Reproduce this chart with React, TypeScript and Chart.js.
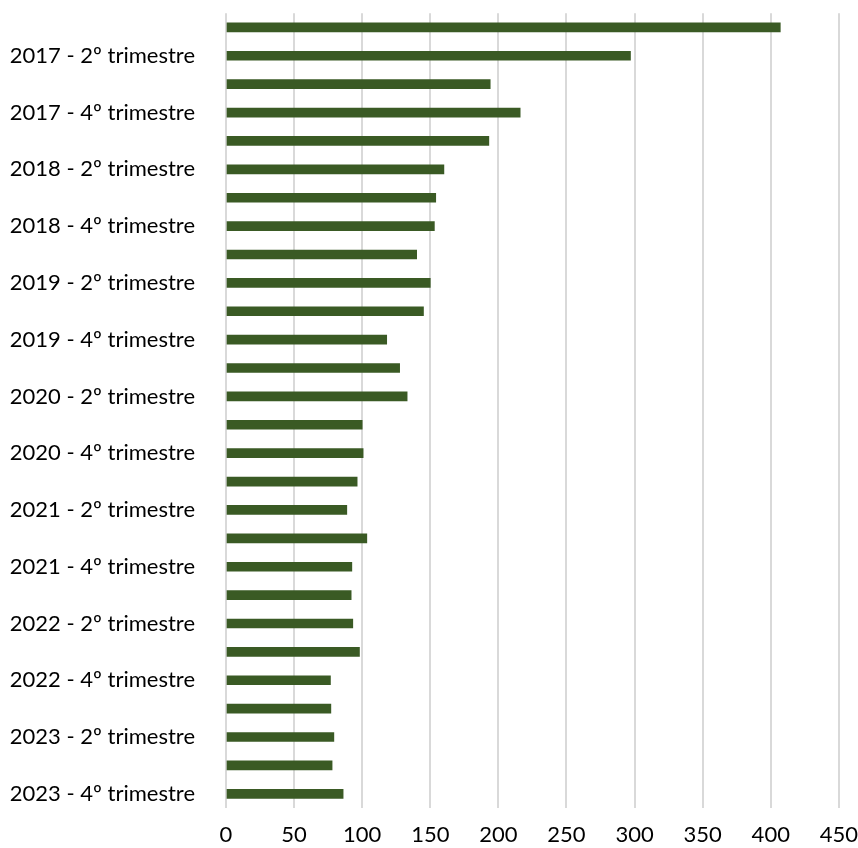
import React, { useEffect, useRef } from "react";
import { Chart, registerables } from "chart.js";

Chart.register(...registerables);

const years = ["2017", "2018", "2019", "2020", "2021", "2022", "2023"];
const quarters = ["1º", "2º", "3º", "4º"];
const categories: string[] = years.flatMap((y) => quarters.map((q) => `${y} - ${q} trimestre`));

const values: number[] = [
  407, 297, 194, 216,
  193, 160, 154, 153,
  140, 150, 145, 118,
  127.5, 133, 100, 100.7,
  96.3, 88.7, 103.4, 92.4,
  91.9, 93.1, 98, 76.7,
  77, 79.2, 77.9, 86,
];

const xTicks = { min: 0, max: 450, step: 50 };

export default function App() {
  const ref = useRef<HTMLCanvasElement | null>(null);

  useEffect(() => {
    document.body.style.margin = "0";
    const canvas = ref.current;
    if (!canvas) return;
    const font = { family: "Lato, 'Open Sans', sans-serif", size: 22 };
    const chart = new Chart(canvas, {
      type: "bar",
      data: {
        labels: categories,
        datasets: [
          {
            data: values,
            backgroundColor: "#3a5a24",
            borderWidth: 0,
            barThickness: 9,
          },
        ],
      },
      options: {
        indexAxis: "y",
        responsive: false,
        animation: false,
        maintainAspectRatio: false,
        layout: { padding: { top: 12, right: 0, left: 0, bottom: 0 } },
        plugins: { legend: { display: false }, tooltip: { enabled: false } },
        scales: {
          x: {
            min: xTicks.min,
            max: xTicks.max,
            ticks: { stepSize: xTicks.step, color: "#000", font, padding: 0 },
            grid: {
              color: "#d9d9d9",
              lineWidth: 2,
              drawTicks: true,
              tickLength: 14,
              tickColor: "rgba(0,0,0,0)",
            },
            border: { display: false },
            afterFit: (scale: any) => {
              scale.height = 40;
            },
          },
          y: {
            ticks: {
              color: "#000",
              font,
              padding: 0,
              autoSkip: false,
              callback: (_v: any, i: number) => (i % 2 === 1 ? categories[i] : ""),
            },
            grid: { display: false, drawTicks: true, tickLength: 31 },
            border: { display: false },
            afterFit: (scale: any) => {
              scale.width = 226;
            },
          },
        },
      },
    });
    return () => chart.destroy();
  }, []);

  return (
    <div style={{ width: 858, height: 848 }}>
      <canvas ref={ref} width={858} height={848} style={{ display: "block" }} />
    </div>
  );
}
